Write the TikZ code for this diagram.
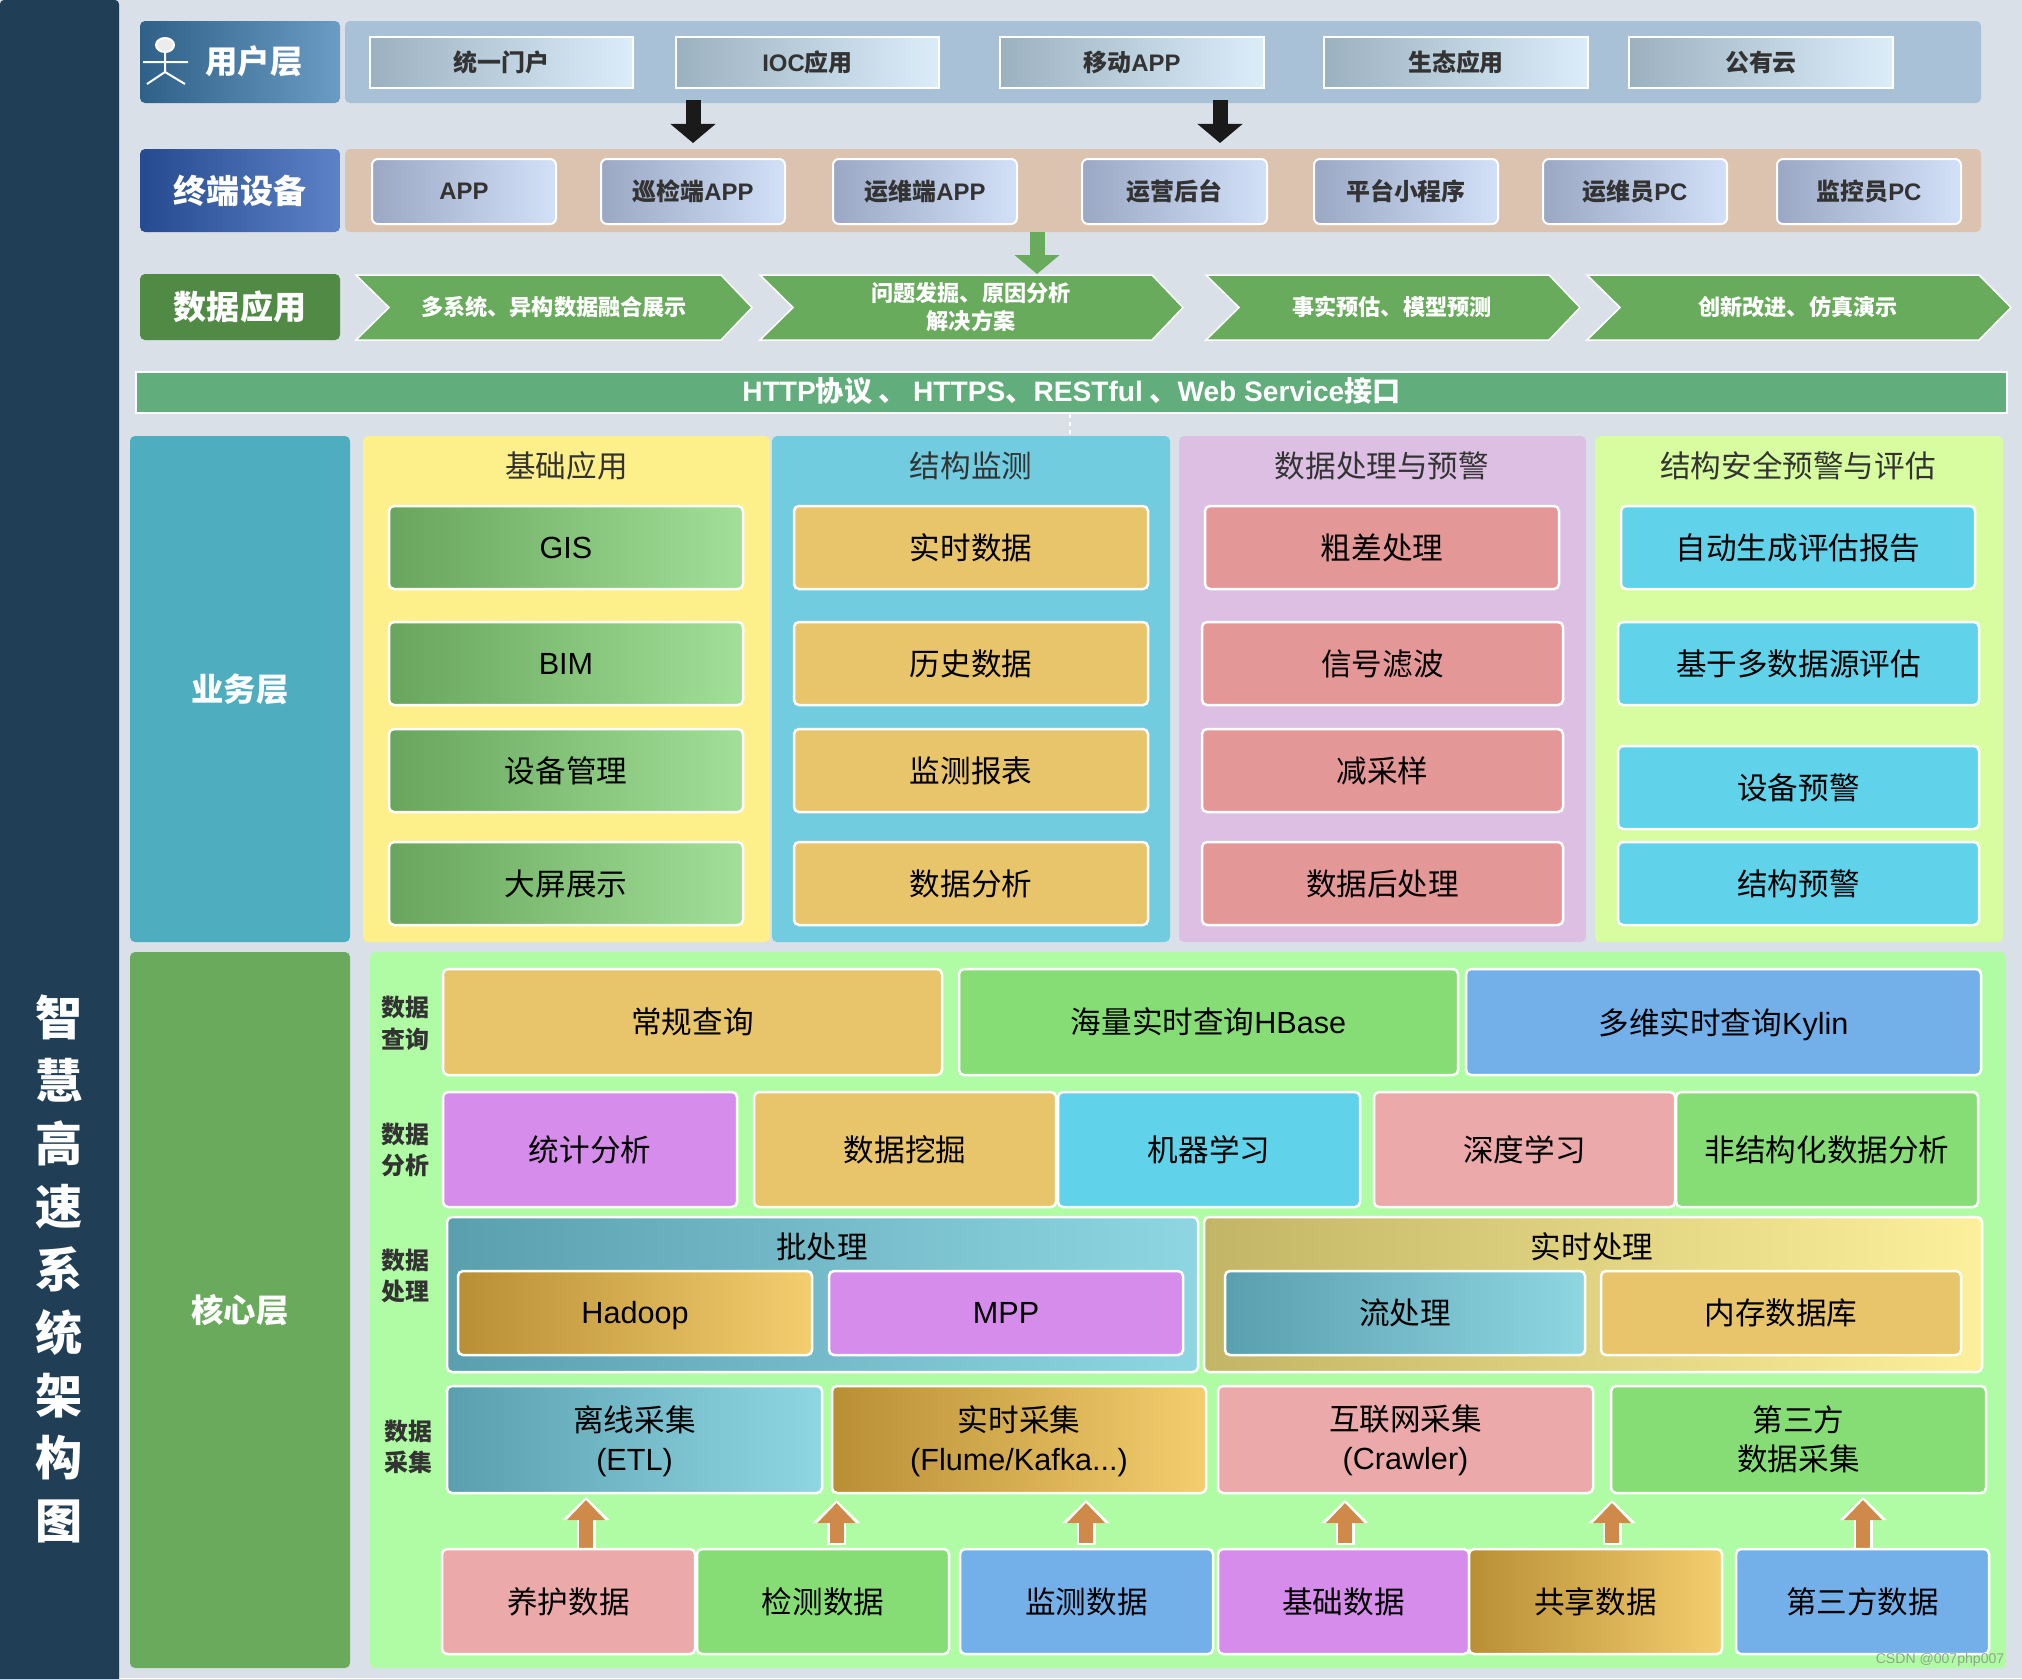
\documentclass[tikz,border=0pt]{standalone}
\usepackage{fontspec}
\setmainfont{Noto Sans CJK SC}
\newfontfamily\latinfont{Liberation Sans}
\newcommand{\lat}[1]{{\latinfont #1}}
\usetikzlibrary{arrows.meta}

\definecolor{pagebg}{HTML}{D9E0E7}
\definecolor{sidebar}{HTML}{203F57}
\definecolor{userband}{HTML}{A9C1D6}
\definecolor{termband}{HTML}{DCC3B0}
\definecolor{appgreen}{HTML}{69AB5C}
\definecolor{appdark}{HTML}{508A44}
\definecolor{apiband}{HTML}{61AD7C}
\definecolor{bizteal}{HTML}{4FADC0}
\definecolor{coregreen}{HTML}{69AA5C}
\definecolor{colyellow}{HTML}{FDF08A}
\definecolor{colblue}{HTML}{72CCE0}
\definecolor{colmauve}{HTML}{DCBFE3}
\definecolor{collime}{HTML}{D8FDA0}
\definecolor{corepanel}{HTML}{B0FCA4}
\definecolor{gold}{HTML}{E8C46A}
\definecolor{salmon}{HTML}{E49797}
\definecolor{skyblue}{HTML}{60D2EA}
\definecolor{orchid}{HTML}{D58CEA}
\definecolor{leaf}{HTML}{87DD75}
\definecolor{azure}{HTML}{73B0EA}
\definecolor{rosepink}{HTML}{EBA9A9}
\definecolor{titlegray}{HTML}{333333}
\definecolor{termleft}{HTML}{9AA8C4}
\definecolor{termright}{HTML}{D2E0F8}
\definecolor{tilegreenl}{HTML}{69A55C}
\definecolor{tilegreenr}{HTML}{A1E098}
\definecolor{teall}{HTML}{5A9FAE}
\definecolor{tealr}{HTML}{8FD6E3}
\definecolor{ochrel}{HTML}{B98F35}
\definecolor{ochrer}{HTML}{F3CD6E}
\definecolor{strawl}{HTML}{C2B666}
\definecolor{strawr}{HTML}{FDF09C}
\definecolor{topleft}{HTML}{9CB1C0}
\definecolor{topright}{HTML}{DBEDF9}
\definecolor{feedorange}{HTML}{CF8A4A}
\definecolor{blockblack}{HTML}{1A1A1A}
\definecolor{userl}{HTML}{2F6088}
\definecolor{userr}{HTML}{6A9CC4}
\definecolor{terml}{HTML}{264A90}
\definecolor{termr}{HTML}{5C82C8}

\tikzset{
    every node/.style={inner sep=0pt, align=center},
    % Text sizes
    size47/.style={font=\fontsize{13.4pt}{17.9pt}\selectfont\bfseries},
    size33/.style={font=\fontsize{9.4pt}{12pt}\selectfont\bfseries},
    size32/.style={font=\fontsize{9.2pt}{12pt}\selectfont\bfseries},
    size30/.style={font=\fontsize{8.7pt}{11.1pt}\selectfont},
    size24/.style={font=\fontsize{6.8pt}{9pt}\selectfont\bfseries},
    size22/.style={font=\fontsize{6.3pt}{8pt}\selectfont\bfseries},
    % Boxes
    panel/.style={rounded corners=0.05cm},
    tile/.style={draw=white, line width=0.025cm, rounded corners=0.05cm, size30},
    toptile/.style={draw=white, line width=0.02cm, left color=topleft, right color=topright, size24, text=titlegray},
    termtile/.style={draw=white, line width=0.02cm, rounded corners=0.06cm, left color=termleft, right color=termright, size24, text=titlegray},
    chevron/.style={draw=white, line width=0.015cm, fill=appgreen},
    greentile/.style={tile, left color=tilegreenl, right color=tilegreenr},
    tealtile/.style={tile, left color=teall, right color=tealr},
    ochretile/.style={tile, left color=ochrel, right color=ochrer},
    % Block arrows
    blockdown/.style={line width=0.15cm, draw=#1, -{Triangle[width=0.44cm,length=0.19cm,fill=#1]}},
    feed/.style={line width=0.14cm, draw=feedorange, shorten >=0.03cm, shorten <=0.02cm,
        -{Triangle[width=0.37cm,length=0.2cm,fill=feedorange]},
        preaction={draw=white, line width=0.19cm, shorten >=0cm, shorten <=0cm, -{Triangle[width=0.46cm,length=0.23cm,fill=white]}}},
}

\begin{document}
\begin{tikzpicture}[x=0.01cm, y=-0.01cm]
    \path[use as bounding box, fill=pagebg] (0,0) rectangle (2022,1678);

    % Title column
    \fill[sidebar, rounded corners=0.04cm] (0,0) rectangle (119,1690);
    \node[size47, text=white] (maintitle) at (59,1269) {智\\慧\\高\\速\\系\\统\\架\\构\\图};

    % User layer
    \draw[panel, left color=userl, right color=userr, draw=none] (140,21) rectangle (340,103) node[midway, xshift=0.14cm, yshift=0.01cm, size32, text=white] (userlabel) {用户层};
    \draw[white, line width=0.02cm, fill=gray!15] (165,45) ellipse (9 and 7);
    \draw[white, line width=0.02cm] (165,52) -- (165,72) -- (147,84) (165,72) -- (185,84) (143,62) -- (188,62);
    \fill[panel, userband] (345,21) rectangle (1981,103);
    \draw[toptile] (370,37) rectangle (633,88) node[midway] (portal) {统一门户};
    \draw[toptile] (676,37) rectangle (939,88) node[midway] (ioc) {\lat{IOC}应用};
    \draw[toptile] (1000,37) rectangle (1264,88) node[midway] (mobile) {移动\lat{APP}};
    \draw[toptile] (1324,37) rectangle (1588,88) node[midway] (ecology) {生态应用};
    \draw[toptile] (1629,37) rectangle (1893,88) node[midway] (pubcloud) {公有云};

    % Terminal devices
    \draw[panel, left color=terml, right color=termr, draw=none] (140,149) rectangle (340,232) node[midway, size33, text=white] (termlabel) {终端设备};
    \fill[panel, termband] (345,149) rectangle (1981,232);
    \draw[termtile] (372,159) rectangle (556,224) node[midway] (appnode) {\lat{APP}};
    \draw[termtile] (601,159) rectangle (785,224) node[midway] (patrol) {巡检端\lat{APP}};
    \draw[termtile] (833,159) rectangle (1017,224) node[midway] (opsapp) {运维端\lat{APP}};
    \draw[termtile] (1082,159) rectangle (1267,224) node[midway] (backend) {运营后台};
    \draw[termtile] (1314,159) rectangle (1498,224) node[midway] (miniapp) {平台小程序};
    \draw[termtile] (1543,159) rectangle (1727,224) node[midway] (opspc) {运维员\lat{PC}};
    \draw[termtile] (1777,159) rectangle (1961,224) node[midway] (monitorpc) {监控员\lat{PC}};

    % Arrows between the upper rows
    \coordinate (blackAtop) at (693,100);
    \coordinate (blackAend) at (693,143);
    \coordinate (blackBtop) at (1220,100);
    \coordinate (blackBend) at (1220,143);
    \coordinate (greentop) at (1037,232);
    \coordinate (greenend) at (1037,274);
    \draw[blockdown=blockblack] (blackAtop) -- (blackAend);
    \draw[blockdown=blockblack] (blackBtop) -- (blackBend);
    \draw[blockdown=appgreen] (greentop) -- (greenend);

    % Data applications
    \fill[panel, appdark] (140,274) rectangle (340,340) node[midway, size33, text=white] (applabel) {数据应用};
    \draw[chevron] (356,275) -- (721,275) -- (752,307.5) -- (721,340) -- (356,340) -- (389,307.5) -- cycle;
    \draw[chevron] (760,275) -- (1152,275) -- (1183,307.5) -- (1152,340) -- (760,340) -- (793,307.5) -- cycle;
    \draw[chevron] (1206,275) -- (1549,275) -- (1580,307.5) -- (1549,340) -- (1206,340) -- (1239,307.5) -- cycle;
    \draw[chevron] (1587,275) -- (1979,275) -- (2011,307.5) -- (1979,340) -- (1587,340) -- (1620,307.5) -- cycle;
    \node[size22, text=white] (fusion) at (554,307) {多系统、异构数据融合展示};
    \node[size22, text=white] (findings) at (971,307) {问题发掘、原因分析\\解决方案};
    \node[size22, text=white] (forecast) at (1392,307) {事实预估、模型预测};
    \node[size22, text=white] (innovate) at (1798,307) {创新改进、仿真演示};

    % Interface strip
    \draw[draw=white, line width=0.015cm, fill=apiband] (136,372) rectangle (2007,413) node[midway, yshift=0.02cm, text=white, font=\fontsize{8pt}{10pt}\selectfont\bfseries] (api) {\lat{HTTP}协议 、 \lat{HTTPS}、\lat{RESTful} 、\lat{Web Service}接口};

    % Business layer
    \fill[panel, bizteal] (130,436) rectangle (350,942) node[midway, size32, text=white] (bizlabel) {业务层};
    \fill[panel, colyellow] (363,436) rectangle (770,942);
    \fill[panel, colblue] (772,436) rectangle (1170,942);
    \fill[panel, colmauve] (1179,436) rectangle (1586,942);
    \fill[panel, collime] (1595,436) rectangle (2003,942);
    \coordinate (dashtop) at (1070,414);
    \coordinate (dashend) at (1070,436);
    \draw[white, dash pattern=on 0.04cm off 0.04cm, line width=0.025cm] (dashtop) -- (dashend);
    \node[size30, text=titlegray] (basetitle) at (566.5,466) {基础应用};
    \node[size30, text=titlegray] (structtitle) at (971,466) {结构监测};
    \node[size30, text=titlegray] (proctitle) at (1382,466) {数据处理与预警};
    \node[size30, text=titlegray] (safetitle) at (1798,466) {结构安全预警与评估};

    % Base applications
    \draw[greentile] (389,506) rectangle (743,589) node[midway] (gis) {\lat{GIS}};
    \draw[greentile] (389,622) rectangle (743,705) node[midway] (bim) {\lat{BIM}};
    \draw[greentile] (389,729) rectangle (743,812) node[midway] (devmgmt) {设备管理};
    \draw[greentile] (389,842) rectangle (743,925) node[midway] (bigscreen) {大屏展示};

    % Structure monitoring
    \draw[tile, fill=gold] (794,506) rectangle (1148,589) node[midway] (realtimedata) {实时数据};
    \draw[tile, fill=gold] (794,622) rectangle (1148,705) node[midway] (history) {历史数据};
    \draw[tile, fill=gold] (794,729) rectangle (1148,812) node[midway] (report) {监测报表};
    \draw[tile, fill=gold] (794,842) rectangle (1148,925) node[midway] (analysis) {数据分析};

    % Data processing and warning
    \draw[tile, fill=salmon] (1205,506) rectangle (1559,589) node[midway] (gross) {粗差处理};
    \draw[tile, fill=salmon] (1202,622) rectangle (1563,705) node[midway] (filtering) {信号滤波};
    \draw[tile, fill=salmon] (1202,729) rectangle (1563,812) node[midway] (downsample) {减采样};
    \draw[tile, fill=salmon] (1202,842) rectangle (1563,925) node[midway] (postproc) {数据后处理};

    % Safety warning and assessment
    \draw[tile, fill=skyblue] (1621,506) rectangle (1975,589) node[midway] (autoreport) {自动生成评估报告};
    \draw[tile, fill=skyblue] (1618,622) rectangle (1979,705) node[midway] (multisource) {基于多数据源评估};
    \draw[tile, fill=skyblue] (1618,746) rectangle (1979,829) node[midway] (devwarn) {设备预警};
    \draw[tile, fill=skyblue] (1618,842) rectangle (1979,925) node[midway] (structwarn) {结构预警};

    % Core layer
    \fill[panel, coregreen] (130,952) rectangle (350,1668) node[midway, size32, text=white] (corelabel) {核心层};
    \fill[panel, corepanel] (370,952) rectangle (2006,1668);
    \node[size24, text=titlegray] (querylabel) at (405,1023) {数据\\查询};
    \node[size24, text=titlegray] (analysislabel) at (405,1150) {数据\\分析};
    \node[size24, text=titlegray] (proclabel) at (405,1276) {数据\\处理};
    \node[size24, text=titlegray] (collectlabel) at (408,1447) {数据\\采集};

    % Data query
    \draw[tile, fill=gold] (443,969) rectangle (942,1075) node[midway] (query) {常规查询};
    \draw[tile, fill=leaf] (959,969) rectangle (1458,1075) node[midway] (hbase) {海量实时查询\lat{HBase}};
    \draw[tile, fill=azure] (1466,969) rectangle (1981,1075) node[midway, yshift=-0.025cm] (kylin) {多维实时查询\lat{Kylin}};

    % Data analysis
    \draw[tile, fill=orchid] (443,1092) rectangle (737,1207) node[midway] (stats) {统计分析};
    \draw[tile, fill=gold] (754,1092) rectangle (1056,1207) node[midway] (mining) {数据挖掘};
    \draw[tile, fill=skyblue] (1058,1092) rectangle (1360,1207) node[midway] (machine) {机器学习};
    \draw[tile, fill=rosepink] (1374,1092) rectangle (1675,1207) node[midway] (deep) {深度学习};
    \draw[tile, fill=leaf] (1676,1092) rectangle (1978,1207) node[midway] (unstruct) {非结构化数据分析};

    % Data processing
    \draw[tealtile] (447,1217) rectangle (1198,1372);
    \draw[tile, left color=strawl, right color=strawr] (1204,1217) rectangle (1982,1372);
    \node[size30] (batch) at (822,1247) {批处理};
    \node[size30] (stream) at (1592,1247) {实时处理};
    \draw[ochretile] (458,1271) rectangle (812,1355) node[midway, yshift=-0.025cm] (hadoop) {\lat{Hadoop}};
    \draw[tile, fill=orchid] (829,1271) rectangle (1183,1355) node[midway] (mpp) {\lat{MPP}};
    \draw[tealtile] (1225,1271) rectangle (1585,1355) node[midway] (flow) {流处理};
    \draw[tile, fill=gold] (1601,1271) rectangle (1961,1355) node[midway] (memdb) {内存数据库};

    % Data collection
    \draw[tealtile] (447,1386) rectangle (822,1493) node[midway, yshift=-0.012cm] (offline) {离线采集\\\lat{(ETL)}};
    \draw[ochretile] (832,1386) rectangle (1206,1493) node[midway, yshift=-0.012cm] (live) {实时采集\\\lat{(Flume/Kafka...)}};
    \draw[tile, fill=rosepink] (1218,1386) rectangle (1593,1493) node[midway, yshift=-0.012cm] (crawler) {互联网采集\\\lat{(Crawler)}};
    \draw[tile, fill=leaf] (1611,1386) rectangle (1986,1493) node[midway] (thirdparty) {第三方\\数据采集};

    % Feed arrows from the sources up to the collectors
    \foreach \x/\y/\b in {586/1497/1555, 836.5/1500/1545, 1086/1500/1545, 1345/1500/1545, 1612/1500/1545, 1863/1497/1555} {
        \coordinate (feedtip) at (\x,\y);
        \coordinate (feedfoot) at (\x,\b);
        \draw[feed] (feedfoot) -- (feedtip);
    }

    % Data sources
    \draw[tile, fill=rosepink] (442,1549) rectangle (695,1654) node[midway] (upkeep) {养护数据};
    \draw[tile, fill=leaf] (697,1549) rectangle (949,1654) node[midway] (inspect) {检测数据};
    \draw[tile, fill=azure] (960,1549) rectangle (1213,1654) node[midway] (monitor) {监测数据};
    \draw[tile, fill=orchid] (1218,1549) rectangle (1469,1654) node[midway] (basic) {基础数据};
    \draw[ochretile] (1469,1549) rectangle (1722,1654) node[midway] (shared) {共享数据};
    \draw[tile, fill=azure] (1736,1549) rectangle (1989,1654) node[midway] (outside) {第三方数据};

    \node[text=gray!70!corepanel, font=\fontsize{4pt}{5pt}\selectfont\latinfont] (mark) at (1940,1660) {CSDN @007php007};
\end{tikzpicture}
\end{document}
